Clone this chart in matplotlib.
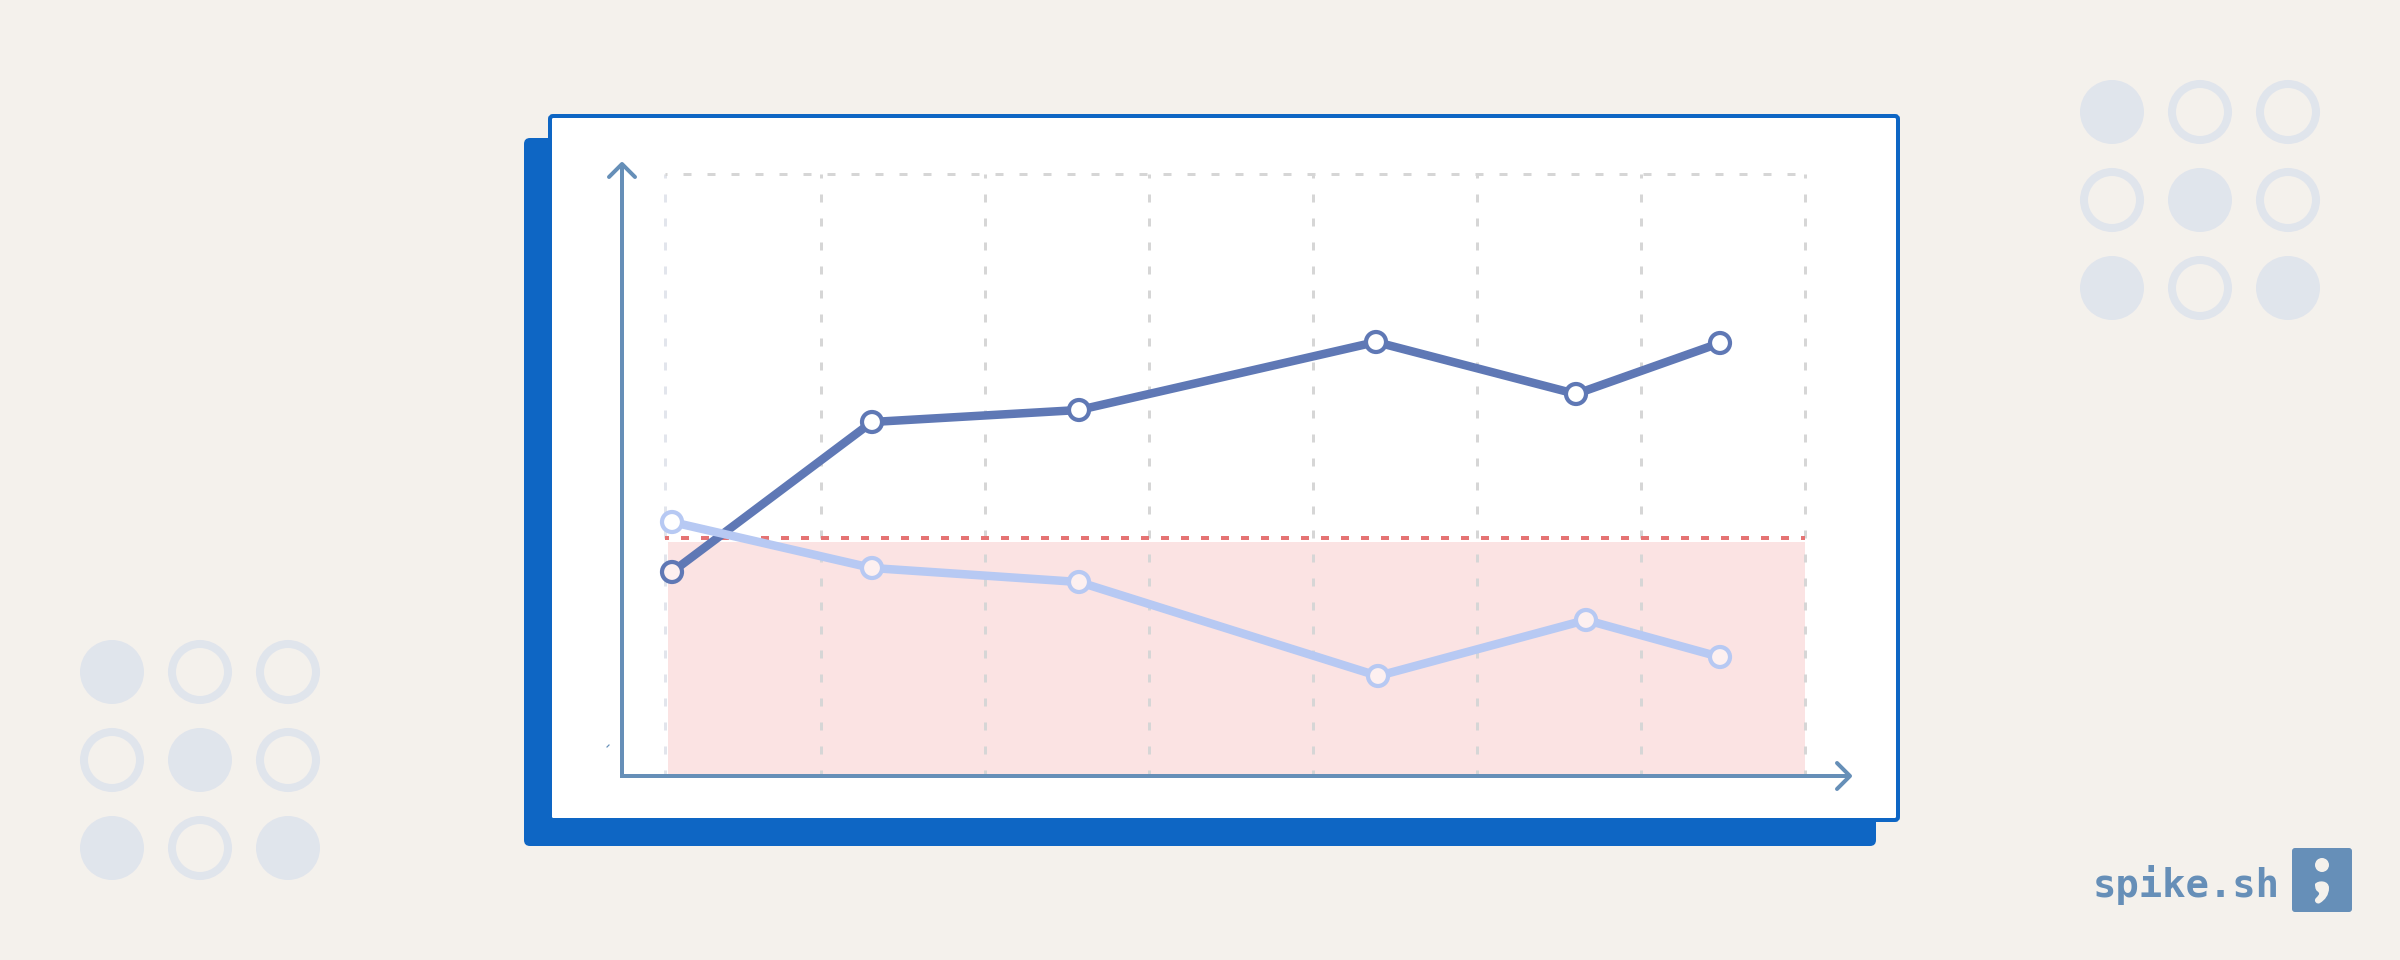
import matplotlib
matplotlib.use('Agg')
import matplotlib.pyplot as plt
from matplotlib.patches import Circle, FancyBboxPatch, PathPatch, Rectangle
from matplotlib.path import Path

## data
# x in chart units, left gridline = 0
grid_x = [0, 156, 320, 484, 648, 812, 976, 1140]
point_x_dark = [7, 207, 414, 711, 911, 1055]
point_x_light = [7, 207, 414, 713, 921, 1055]
dark_values = [204, 354, 366, 434, 382, 433]
light_values = [254, 208, 194, 100, 156, 119]
threshold = 238
band_top = 234
y_max = 602

# dot pattern, 1 = filled, 0 = ring
dots = [[1, 0, 0],
        [0, 1, 0],
        [1, 0, 1]]

## colours
BG = '#f4f1ec'
BLUE = '#0e66c4'
AXIS = '#668fb8'
DARK = '#5f78b5'
LIGHT = '#b7c9f3'
RED = '#e57373'
PINK = '#fbe3e3'
GRID = '#d6d6d6'
DOT = '#e0e5ec'

PT = 0.72  # 1px in points at dpi 100
plt.rcParams['lines.scale_dashes'] = False

fig = plt.figure(figsize=(24, 9.6), dpi=100, facecolor=BG)

## background layer, in pixels
bg = fig.add_axes([0, 0, 1, 1])
bg.set_xlim(0, 2400)
bg.set_ylim(960, 0)
bg.axis('off')


def dot_block(x0, y0):
    for r, row in enumerate(dots):
        for c, filled in enumerate(row):
            center = (x0 + c * 88, y0 + r * 88)
            if filled:
                bg.add_patch(Circle(center, 32, fc=DOT, ec='none'))
            else:
                bg.add_patch(Circle(center, 28, fc='none', ec=DOT, lw=8 * PT))


dot_block(112, 672)
dot_block(2112, 112)

# card and its shadow
bg.add_patch(FancyBboxPatch((530, 144), 1340, 696, boxstyle='round,pad=6,rounding_size=6',
                            fc=BLUE, ec='none'))
bg.add_patch(FancyBboxPatch((550, 116), 1348, 704, boxstyle='round,pad=0,rounding_size=3',
                            fc='white', ec=BLUE, lw=4 * PT))

# logo
bg.text(2093, 897, 'spike.sh', family='DejaVu Sans Mono', weight='bold', fontsize=28,
        color=AXIS, ha='left', va='baseline')
bg.add_patch(FancyBboxPatch((2295, 851), 54, 58, boxstyle='round,pad=3,rounding_size=3',
                            fc=AXIS, ec='none'))
bg.add_patch(Circle((2322, 865), 7, fc=BG, ec='none'))
bg.add_patch(PathPatch(Path([(2315, 884), (2318, 880), (2329, 880), (2329, 888),
                             (2329, 895), (2325, 900), (2320, 903),
                             (2317, 905), (2313, 901), (2316, 898),
                             (2320, 894), (2320, 893), (2317, 891),
                             (2315, 889), (2315, 886), (2315, 884)],
                            [Path.MOVETO] + [Path.CURVE4] * 15), fc=BG, ec='none'))

## chart layer
ax = fig.add_axes([665 / 2400, (960 - 776) / 960, 1140 / 2400, y_max / 960])
ax.set_xlim(0, grid_x[-1])
ax.set_ylim(0, y_max)
ax.axis('off')
ax.patch.set_alpha(0)

ax.add_patch(Rectangle((3, 0), grid_x[-1] - 3, band_top, fc=PINK, ec='none', zorder=1))

for i, gx in enumerate(grid_x):
    ax.plot([gx, gx], [y_max, 0], color='#e2e5ec' if i == 0 else GRID, lw=3 * PT, zorder=2,
            linestyle=(4 * PT, (8 * PT, 16 * PT)), clip_on=False)
ax.plot([0, grid_x[-1]], [y_max, y_max], color=GRID, lw=3 * PT, zorder=2,
        linestyle=(6 * PT, (8 * PT, 16 * PT)), clip_on=False)

ax.plot([0, grid_x[-1]], [threshold, threshold], color=RED, lw=4 * PT, zorder=3,
        linestyle=(4 * PT, (8 * PT, 12 * PT)), clip_on=False)

# axes with open arrow heads
ax.plot([-43, -43], [0, 612], color=AXIS, lw=4 * PT, zorder=4, clip_on=False,
        solid_capstyle='butt')
ax.plot([-56, -43, -30], [599, 612, 599], color=AXIS, lw=4 * PT, zorder=4, clip_on=False,
        solid_joinstyle='round', solid_capstyle='round')
ax.plot([-45, 1185], [0, 0], color=AXIS, lw=4 * PT, zorder=4, clip_on=False,
        solid_capstyle='butt')
ax.plot([1172, 1185, 1172], [13, 0, -13], color=AXIS, lw=4 * PT, zorder=4, clip_on=False,
        solid_joinstyle='round', solid_capstyle='round')
ax.plot([-58, -56], [29, 31], color=AXIS, lw=1.2 * PT, zorder=4, clip_on=False)


def series(xs, ys, color, z):
    ax.plot(xs, ys, color=color, lw=8.5 * PT, zorder=z, solid_joinstyle='round', clip_on=False)
    # inside the band the circles are tinted
    faces = ['#fdf0f0' if y < band_top else 'white' for y in ys]
    ax.scatter(xs, ys, s=(20 * PT) ** 2, c=faces, edgecolors=color, linewidths=4.2 * PT,
               zorder=z + 0.5, clip_on=False)


series(point_x_dark, dark_values, DARK, 5)
series(point_x_light, light_values, LIGHT, 6)

fig.savefig('out.png', dpi=100, facecolor=BG)
